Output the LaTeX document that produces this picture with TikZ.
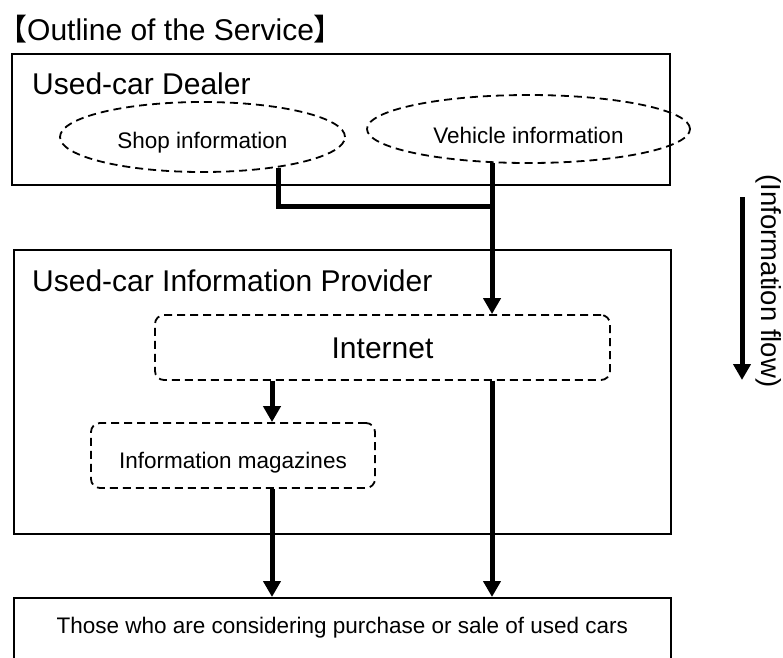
\documentclass[tikz,border=0pt]{standalone}
\usepackage{fontspec}
\setmainfont{Liberation Sans}
\newfontfamily\cjk[RawFeature=+palt]{Noto Sans CJK JP}
\usetikzlibrary{arrows.meta,shapes.geometric}
\begin{document}
\begin{tikzpicture}[x=1pt,y=-1pt,
  box/.style={draw, line width=1.6pt, rectangle, inner sep=0pt},
  dashbox/.style={draw, line width=1.8pt, dash pattern=on 8pt off 5pt, rounded corners=9pt, rectangle, inner sep=0pt},
  oval/.style={draw, ellipse, line width=1.8pt, dash pattern=on 8pt off 5pt, inner sep=0pt},
  big/.style={font=\fontsize{30}{36}\selectfont},
  small/.style={font=\fontsize{22.5}{27}\selectfont},
  flowtxt/.style={font=\fontsize{27.5}{32}\selectfont},
  flow/.style={line width=5pt, -{Triangle[width=17pt,length=16pt]}},
  thickline/.style={line width=5pt}]
\useasboundingbox (0,0) rectangle (783,657);

% title
\node[anchor=base west, big, inner sep=0pt] (title) at (12,40)
  {{\cjk 【}Outline of the Service{\cjk 】}};

% dealer
\node[box, anchor=north west, minimum width=658pt, minimum height=131pt] (dealer) at (11,53) {};
\node[anchor=base west, big, inner sep=0pt] (dealerlbl) at (32,94) {Used-car Dealer};
\node[oval, small, minimum width=285pt, minimum height=70pt, text height=22pt, text depth=0pt] (shop) at (202.5,137) {Shop information};
\node[oval, small, minimum width=323pt, minimum height=68pt, text height=28pt, text depth=0pt] (veh) at (528.5,129) {Vehicle information};

% provider
\node[box, anchor=north west, minimum width=657pt, minimum height=284pt] (prov) at (13,249) {};
\node[anchor=base west, big, inner sep=0pt] (provlbl) at (32,291) {Used-car Information Provider};
\node[dashbox, big, minimum width=455pt, minimum height=65pt, text height=21pt, text depth=0pt] (inet) at (382.5,347.5) {Internet};
\node[dashbox, small, minimum width=284pt, minimum height=65pt, text height=25pt, text depth=0pt] (mag) at (233,455.5) {Information magazines};

% consumers
\node[box, anchor=north west, small, minimum width=657pt, minimum height=72pt, text height=0pt, text depth=0pt] (users) at (13,597) {Those who are considering purchase or sale of used cars};

% connectors
\coordinate (joint) at (493,206);
\coordinate (cx1) at (272,0);
\coordinate (cx2) at (492,0);
\draw[thickline] (shop.-22.5) |- (joint);
\draw[flow] (veh.-137) -- (veh.-137 |- inet.north);
\draw[flow] (inet.south -| cx1) -- (mag.north -| cx1);
\draw[flow] (mag.south -| cx1) -- (users.north -| cx1);
\draw[flow] (inet.south -| cx2) -- (users.north -| cx2);

% information flow legend
\coordinate (f1) at (742,197);
\coordinate (f2) at (742,380);
\draw[flow] (f1) -- (f2);
\node[rotate=-90, flowtxt, inner sep=0pt] (flowlbl) at (769,281) {(Information flow)};
\end{tikzpicture}
\end{document}
